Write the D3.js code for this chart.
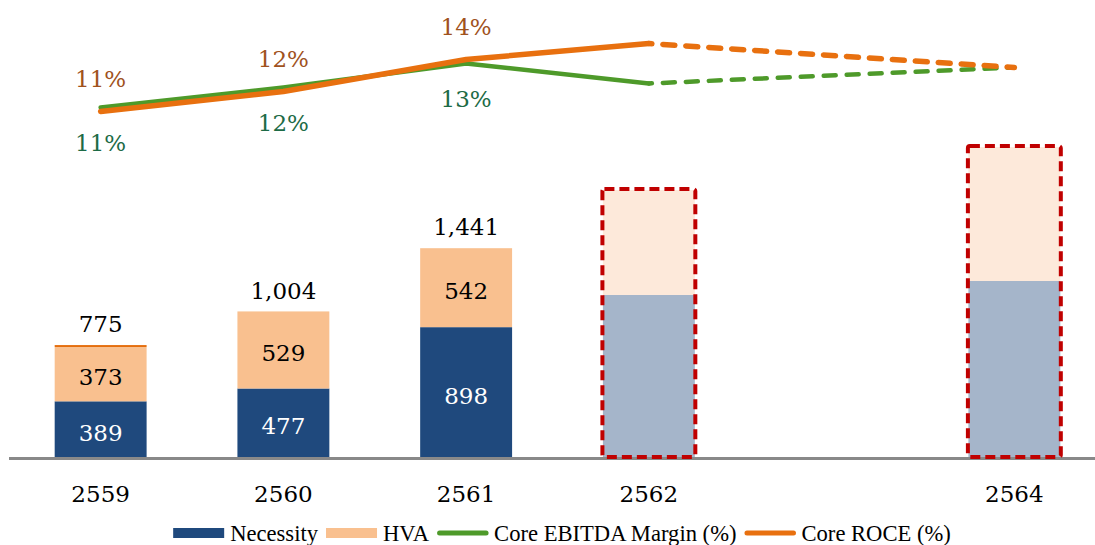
<!DOCTYPE html>
<html><head><meta charset="utf-8">
<script src="https://cdn.jsdelivr.net/npm/d3@7"></script>
<style>
html,body{margin:0;padding:0;background:#fff;}
svg{display:block;}
</style></head>
<body>
<svg id="chart" width="1095" height="545"></svg>
<script>
const years = ["2559","2560","2561","2562","2563","2564"];
const xLabels = ["2559","2560","2561","2562","","2564"];
const necessity = [389, 477, 898, 1119, null, 1215];
const hva = [373, 529, 542, 720, null, 919];
const other = [13, 0, 1, 0, null, 0];
const totals = [775, 1004, 1441, null, null, null];
const projected = [false, false, false, true, false, true];
const ebitda = [11.2, 12.2, 13.4, 12.4, null, 13.2];
const roce = [11.0, 12.0, 13.6, 14.4, null, 13.2];
const labelCount = 3;
const legendItems = [
  {name:"Necessity", type:"bar", color:"#1F497D"},
  {name:"HVA", type:"bar", color:"#F9C08F"},
  {name:"Core EBITDA Margin (%)", type:"line", color:"#4E9A2A"},
  {name:"Core ROCE (%)", type:"line", color:"#E8700F"}
];

const svg = d3.select("#chart");
const serif = "'DejaVu Serif', Georgia, serif";
const fs = 23;

const x = d3.scaleBand().domain(years).range([9, 1106]).paddingInner(0.497).paddingOuter(0.25);
const y = d3.scaleLinear().domain([0, 3000]).range([458, 20.9]);
const y2 = d3.scaleLinear().domain([0, 16]).range([331.5, 11.5]);

const cNec = "#1F497D", cHva = "#F9C08F", cOther = "#E46C0A";
const cNecP = "#A5B5CA", cHvaP = "#FDE9DA";

const idx = d3.range(years.length).filter(i => necessity[i] != null);

// bars
const g = svg.append("g");
idx.forEach(i => {
  const xx = x(years[i]), w = x.bandwidth();
  const p = projected[i];
  g.append("rect").attr("x", xx).attr("width", w)
    .attr("y", y(necessity[i])).attr("height", y(0) - y(necessity[i]))
    .attr("fill", p ? cNecP : cNec);
  g.append("rect").attr("x", xx).attr("width", w)
    .attr("y", y(necessity[i] + hva[i])).attr("height", y(necessity[i]) - y(necessity[i] + hva[i]))
    .attr("fill", p ? cHvaP : cHva);
  if (other[i] > 1) {
    g.append("rect").attr("x", xx).attr("width", w)
      .attr("y", y(necessity[i] + hva[i] + other[i])).attr("height", y(necessity[i] + hva[i]) - y(necessity[i] + hva[i] + other[i]))
      .attr("fill", cOther);
  }
  if (!p) {
    g.append("text").attr("x", xx + w/2).attr("y", (y(0) + y(necessity[i]))/2 + 3)
      .attr("text-anchor","middle").attr("dominant-baseline","central")
      .attr("font-family", serif).attr("font-size", fs).attr("fill","#fff")
      .text(d3.format(",")(necessity[i]));
    g.append("text").attr("x", xx + w/2).attr("y", (y(necessity[i]) + y(necessity[i]+hva[i]))/2 + 3)
      .attr("text-anchor","middle").attr("dominant-baseline","central")
      .attr("font-family", serif).attr("font-size", fs).attr("fill","#000")
      .text(d3.format(",")(hva[i]));
    g.append("text").attr("x", xx + w/2).attr("y", y(totals[i]) - 21)
      .attr("text-anchor","middle").attr("dominant-baseline","central")
      .attr("font-family", serif).attr("font-size", fs).attr("fill","#000")
      .text(d3.format(",")(totals[i]));
  }
});

// axis baseline
svg.append("line").attr("x1", 9).attr("x2", 1095).attr("y1", y(0)+0.5).attr("y2", y(0)+0.5)
  .attr("stroke", "#898989").attr("stroke-width", 3);

// projected dashed outlines
idx.filter(i => projected[i]).forEach(i => {
  const xx = x(years[i]), w = x.bandwidth();
  const top = y(necessity[i] + hva[i]);
  svg.append("rect").attr("x", xx - 0.5).attr("width", w + 1)
    .attr("y", top - 1).attr("height", y(0) - top)
    .attr("rx", 2).attr("fill", "none").attr("stroke", "#C00000")
    .attr("stroke-width", 4).attr("stroke-dasharray", "10 5");
});

// x labels
xLabels.forEach((t, i) => {
  if (!t) return;
  svg.append("text").attr("x", x(years[i]) + x.bandwidth()/2).attr("y", 494)
    .attr("text-anchor","middle").attr("dominant-baseline","central")
    .attr("font-family", serif).attr("font-size", fs).attr("fill","#000").text(t);
});

// lines
const cx = i => x(years[i]) + x.bandwidth()/2;
function drawSeries(vals, color, width) {
  const pts = idx.map(i => [cx(i), y2(vals[i]), i]);
  const firstProj = idx.find(k => projected[k]);
  const solid = pts.filter(p => p[2] <= firstProj);
  const dashed = pts.filter(p => p[2] >= firstProj);
  const line = d3.line().x(p => p[0]).y(p => p[1]);
  svg.append("path").attr("d", line(solid)).attr("fill","none").attr("stroke", color)
    .attr("stroke-width", width).attr("stroke-linejoin","round").attr("stroke-linecap","round");
  svg.append("path").attr("d", line(dashed)).attr("fill","none").attr("stroke", color)
    .attr("stroke-width", width).attr("stroke-linecap","round").attr("stroke-dasharray","12 11")
    .attr("stroke-dashoffset", -14);
}
drawSeries(ebitda, "#4E9A2A", 4.5);
drawSeries(roce, "#E8700F", 5.5);

// line labels
for (let i = 0; i < labelCount; i++) {
  svg.append("text").attr("x", cx(i)).attr("y", y2(roce[i]) - 33)
    .attr("text-anchor","middle").attr("dominant-baseline","central")
    .attr("font-family", serif).attr("font-size", fs).attr("fill","#A0521D")
    .text(Math.round(roce[i]) + "%");
  svg.append("text").attr("x", cx(i)).attr("y", y2(ebitda[i]) + 35)
    .attr("text-anchor","middle").attr("dominant-baseline","central")
    .attr("font-family", serif).attr("font-size", fs).attr("fill","#1D6B46")
    .text(Math.round(ebitda[i]) + "%");
}

// legend
const lg = svg.append("g");
let cur = 0;
legendItems.forEach(it => {
  if (it.type === "bar") {
    lg.append("rect").attr("x", cur).attr("y", -5).attr("width", 51).attr("height", 10).attr("fill", it.color);
  } else {
    lg.append("line").attr("x1", cur + 2.5).attr("x2", cur + 49).attr("y1", 0).attr("y2", 0)
      .attr("stroke", it.color).attr("stroke-width", 5).attr("stroke-linecap","round");
  }
  cur += 57;
  const t = lg.append("text").attr("x", cur).attr("y", 0).attr("dominant-baseline","central")
    .attr("font-family", "'Liberation Serif', 'Times New Roman', serif").attr("font-size", 22.6)
    .attr("fill", "#000").text(it.name);
  cur += t.node().getComputedTextLength() + 8;
});
const total = cur - 8;
lg.attr("transform", `translate(${562 - total/2},533)`);
</script>
</body></html>
